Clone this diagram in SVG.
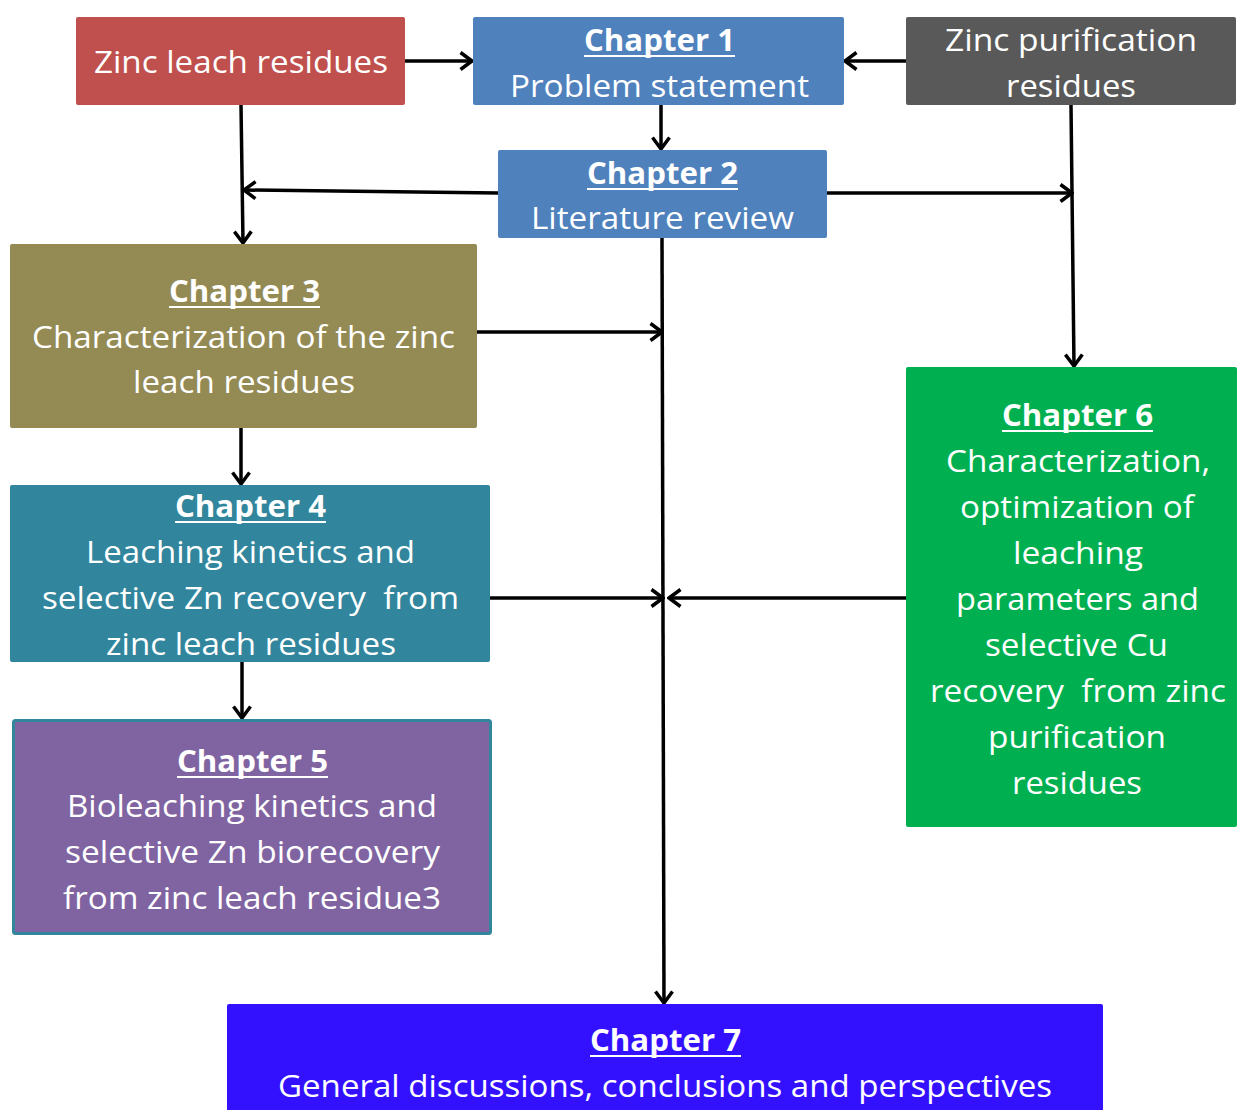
<svg xmlns="http://www.w3.org/2000/svg" width="1237" height="1110" viewBox="0 0 1237 1110">
<defs>
<style>
.t{font-family:"Open Sans","Liberation Sans",sans-serif;font-size:31px;fill:#fff;white-space:pre;}
.h{font-weight:bold;}
.u{stroke:#fff;stroke-width:2;}
.c{stroke:#000;stroke-width:3.5;fill:none;}
</style>
<marker id="a" markerUnits="userSpaceOnUse" viewBox="0 0 15 20" markerWidth="15" markerHeight="20" refX="13" refY="10" orient="auto">
<path d="M1.5,1.5 L13,10 L1.5,18.5" fill="none" stroke="#000" stroke-width="3.5"/>
</marker>
</defs>
<rect width="1237" height="1110" fill="#fff"/>
<g id="connectors">
<line class="c" x1="405" y1="61" x2="472" y2="61" marker-end="url(#a)"/>
<line class="c" x1="906" y1="61" x2="845" y2="61" marker-end="url(#a)"/>
<line class="c" x1="661" y1="105" x2="661" y2="149" marker-end="url(#a)"/>
<line class="c" x1="241" y1="105" x2="243" y2="243" marker-end="url(#a)"/>
<line class="c" x1="498" y1="193" x2="244" y2="190" marker-end="url(#a)"/>
<line class="c" x1="827" y1="193" x2="1072" y2="193" marker-end="url(#a)"/>
<line class="c" x1="1071" y1="105" x2="1074" y2="366" marker-end="url(#a)"/>
<line class="c" x1="662" y1="238" x2="664" y2="1003" marker-end="url(#a)"/>
<line class="c" x1="477" y1="332" x2="662" y2="332" marker-end="url(#a)"/>
<line class="c" x1="241" y1="428" x2="241" y2="484" marker-end="url(#a)"/>
<line class="c" x1="490" y1="598" x2="663" y2="598" marker-end="url(#a)"/>
<line class="c" x1="906" y1="598" x2="669" y2="598" marker-end="url(#a)"/>
<line class="c" x1="242" y1="662" x2="242" y2="718" marker-end="url(#a)"/>
</g>
<g id="zinc-leach">
<rect x="76" y="17" width="329" height="88" rx="2" fill="#C0504D"/>
<text class="t" x="94" y="73" textLength="294" lengthAdjust="spacingAndGlyphs">Zinc leach residues</text>
</g>
<g id="chapter1">
<rect x="473" y="17" width="371" height="88" rx="2" fill="#4F81BD"/>
<text class="t h" x="584" y="51" textLength="151" lengthAdjust="spacingAndGlyphs">Chapter 1</text>
<line class="u" x1="584" y1="56" x2="735" y2="56"/>
<text class="t" x="510" y="97" textLength="299" lengthAdjust="spacingAndGlyphs">Problem statement</text>
</g>
<g id="zinc-purification">
<rect x="906" y="17" width="330" height="88" rx="2" fill="#595959"/>
<text class="t" x="945" y="51" textLength="252" lengthAdjust="spacingAndGlyphs">Zinc purification</text>
<text class="t" x="1006" y="97" textLength="130" lengthAdjust="spacingAndGlyphs">residues</text>
</g>
<g id="chapter2">
<rect x="498" y="150" width="329" height="88" rx="2" fill="#4F81BD"/>
<text class="t h" x="587" y="184" textLength="151" lengthAdjust="spacingAndGlyphs">Chapter 2</text>
<line class="u" x1="587" y1="189" x2="738" y2="189"/>
<text class="t" x="531" y="229" textLength="263" lengthAdjust="spacingAndGlyphs">Literature review</text>
</g>
<g id="chapter3">
<rect x="10" y="244" width="467" height="184" rx="2" fill="#948A54"/>
<text class="t h" x="169" y="302" textLength="151" lengthAdjust="spacingAndGlyphs">Chapter 3</text>
<line class="u" x1="169" y1="307" x2="320" y2="307"/>
<text class="t" x="32" y="348" textLength="423" lengthAdjust="spacingAndGlyphs">Characterization of the zinc</text>
<text class="t" x="133" y="393" textLength="222" lengthAdjust="spacingAndGlyphs">leach residues</text>
</g>
<g id="chapter4">
<rect x="10" y="485" width="480" height="177" rx="2" fill="#31859C"/>
<text class="t h" x="175" y="517" textLength="151" lengthAdjust="spacingAndGlyphs">Chapter 4</text>
<line class="u" x1="175" y1="522" x2="326" y2="522"/>
<text class="t" x="86" y="563" textLength="329" lengthAdjust="spacingAndGlyphs">Leaching kinetics and</text>
<text class="t" x="42" y="609" textLength="417" lengthAdjust="spacingAndGlyphs">selective Zn recovery  from</text>
<text class="t" x="106" y="655" textLength="290" lengthAdjust="spacingAndGlyphs">zinc leach residues</text>
</g>
<g id="chapter5">
<rect x="13.5" y="720.5" width="477" height="213" rx="2" fill="#8064A2" stroke="#31859C" stroke-width="3"/>
<text class="t h" x="177" y="772" textLength="151" lengthAdjust="spacingAndGlyphs">Chapter 5</text>
<line class="u" x1="177" y1="777" x2="328" y2="777"/>
<text class="t" x="67" y="817" textLength="370" lengthAdjust="spacingAndGlyphs">Bioleaching kinetics and</text>
<text class="t" x="65" y="863" textLength="375" lengthAdjust="spacingAndGlyphs">selective Zn biorecovery</text>
<text class="t" x="63" y="909" textLength="378" lengthAdjust="spacingAndGlyphs">from zinc leach residue3</text>
</g>
<g id="chapter6">
<rect x="906" y="367" width="331" height="460" rx="2" fill="#00B050"/>
<text class="t h" x="1002" y="426" textLength="151" lengthAdjust="spacingAndGlyphs">Chapter 6</text>
<line class="u" x1="1002" y1="431" x2="1153" y2="431"/>
<text class="t" x="946" y="472" textLength="264" lengthAdjust="spacingAndGlyphs">Characterization,</text>
<text class="t" x="960" y="518" textLength="234" lengthAdjust="spacingAndGlyphs">optimization of</text>
<text class="t" x="1013" y="564" textLength="130" lengthAdjust="spacingAndGlyphs">leaching</text>
<text class="t" x="956" y="610" textLength="243" lengthAdjust="spacingAndGlyphs">parameters and</text>
<text class="t" x="985" y="656" textLength="183" lengthAdjust="spacingAndGlyphs">selective Cu</text>
<text class="t" x="930" y="702" textLength="296" lengthAdjust="spacingAndGlyphs">recovery  from zinc</text>
<text class="t" x="988" y="748" textLength="178" lengthAdjust="spacingAndGlyphs">purification</text>
<text class="t" x="1012" y="794" textLength="130" lengthAdjust="spacingAndGlyphs">residues</text>
</g>
<g id="chapter7">
<rect x="227" y="1004" width="876" height="110" rx="2" fill="#3311FF"/>
<text class="t h" x="590" y="1051" textLength="151" lengthAdjust="spacingAndGlyphs">Chapter 7</text>
<line class="u" x1="590" y1="1056" x2="741" y2="1056"/>
<text class="t" x="278" y="1097" textLength="774" lengthAdjust="spacingAndGlyphs">General discussions, conclusions and perspectives</text>
</g>
</svg>
